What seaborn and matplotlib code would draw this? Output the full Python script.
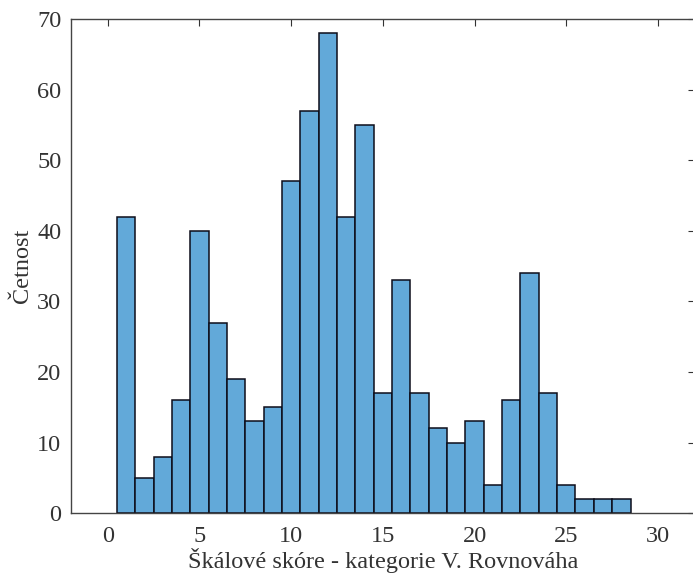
import numpy as np
import pandas as pd
import matplotlib
matplotlib.use("Agg")
import matplotlib.pyplot as plt
import seaborn as sns

scores = list(range(1, 29))
counts = [42, 5, 8, 16, 40, 27, 19, 13, 15, 47, 57, 68, 42, 55, 17, 33, 17, 12, 10, 13, 4, 16, 34, 17, 4, 2, 2, 2]
xticks = [0, 5, 10, 15, 20, 25, 30]
yticks = [0, 10, 20, 30, 40, 50, 60, 70]

df = pd.DataFrame({"score": scores, "count": counts})

sns.set_theme(style="white")
plt.rcParams['font.family'] = ['Liberation Serif', 'DejaVu Serif']

fig = plt.figure(figsize=(6.93, 5.76), dpi=100)
ax = fig.add_axes([0.1025, 0.109, 0.9, 0.858])

sns.histplot(data=df, x="score", weights="count", discrete=True,
             color="#62A9D9", alpha=1.0, edgecolor="#0d0d1a", linewidth=1.1, ax=ax)

ax.set_xlim(-2, 32)
ax.set_ylim(0, 70)
ax.set_xticks(xticks)
ax.set_yticks(yticks)
ax.tick_params(direction="in", length=5, width=0.8, top=True, right=True,
               labelsize=17.5, colors="#333333", pad=9)
ax.tick_params(axis="y", pad=7)
for s in ax.spines.values():
    s.set_color("#444444")
    s.set_linewidth(1.0)
ax.set_xlabel("Škálové skóre - kategorie V. Rovnováha", fontsize=17.5, color="#333333", labelpad=1)
ax.set_ylabel("Četnost", fontsize=17.5, color="#333333", labelpad=3)

fig.savefig("out.png", dpi=100)
